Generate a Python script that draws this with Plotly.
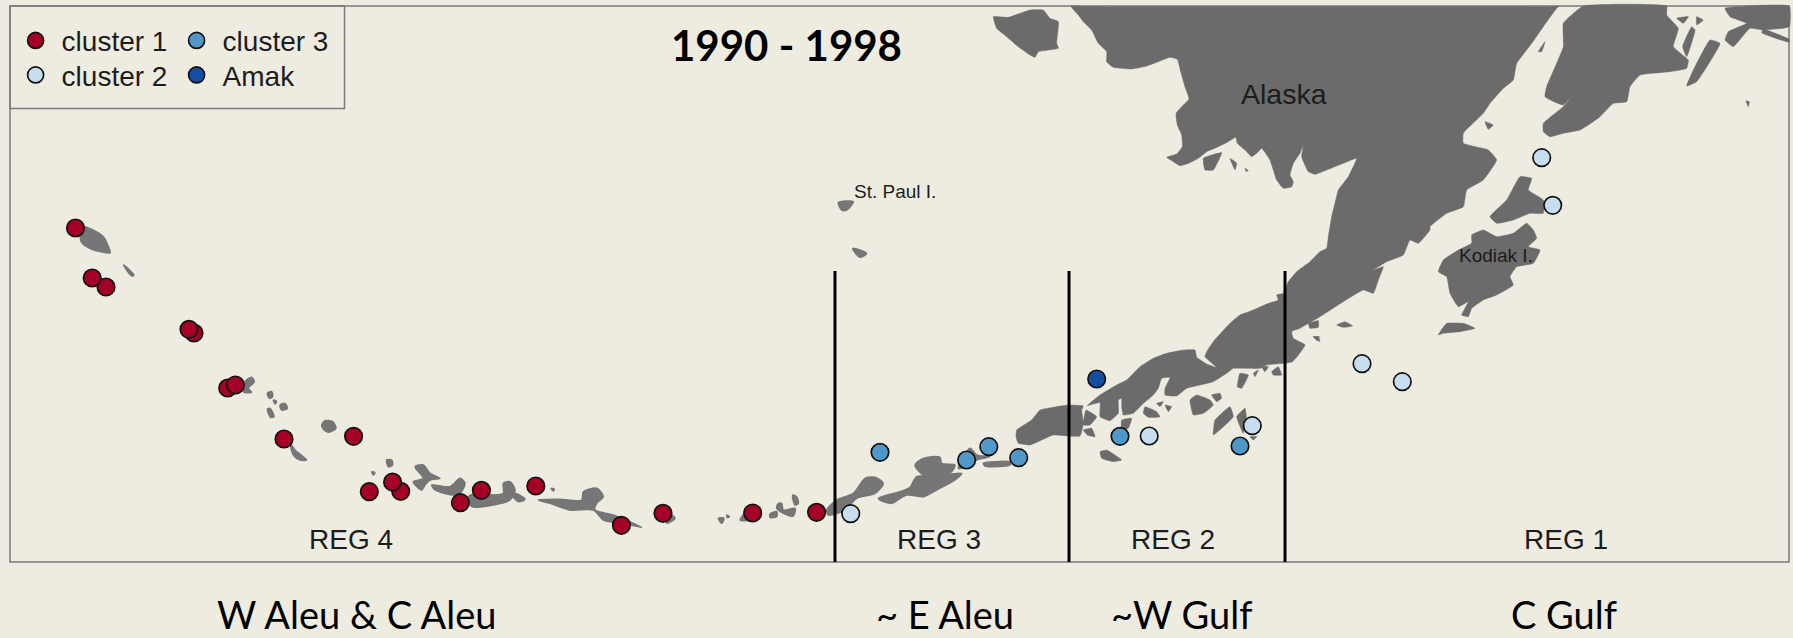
import plotly.graph_objects as go

W, H = 1793, 638
BG = "#EEECE1"
LAND = "#6B6B6B"
ISLE = "#767676"

# ---- survey sites (map position in image units) ----
cluster1_x = [75.5, 106, 92.2, 194, 189, 227.7, 235.4, 284, 353.6, 369.3, 400.7, 392.6, 460.4, 481.4, 535.8, 621.4, 663, 752.7, 816.6]
cluster1_y = [228, 287, 278, 333, 329.3, 388, 385, 439, 436.3, 491.7, 491.3, 482, 502.7, 490.3, 486, 525.3, 513.3, 513, 512.3]
cluster2_x = [850.7, 1149.2, 1252.3, 1362, 1402.3, 1541.7, 1552.7]
cluster2_y = [513.7, 436, 425.7, 363.7, 381.7, 157.7, 205.3]
cluster3_x = [880, 966.6, 988.8, 1018.7, 1120, 1240]
cluster3_y = [452.3, 460, 446.7, 457.7, 436.3, 446]
amak_x = [1096.7]
amak_y = [379]

region_boundaries = [835, 1069, 1285]
region_labels = ["REG 4", "REG 3", "REG 2", "REG 1"]
region_label_x = [351, 938.7, 1173, 1566]
area_labels = ["W Aleu & C Aleu", "~ E Aleu", "~W Gulf", "C Gulf"]
area_label_x = [356, 945, 1182, 1564]
place_labels = ["St. Paul I.", "Alaska", "Kodiak I."]
place_x = [895, 1284, 1496]
place_y = [191, 94, 255]


def P(ox, oy, pts, fx=3.0, fy=3.0):
    return [(ox + a / fx, oy + b / fy) for a, b in pts]


# ---- coast outlines ----
mainland = (
    P(950, 0, [(362, 18), (385, 45), (400, 65), (425, 90), (445, 130), (470, 155), (470, 185), (490, 202), (545, 207), (590, 198), (625, 185), (660, 172), (682, 178), (692, 215), (705, 260), (717, 297), (695, 320), (678, 340), (682, 375), (695, 405), (697, 440), (680, 462), (650, 472), (670, 485), (690, 497), (720, 488), (745, 475), (770, 455), (805, 440), (835, 425), (857, 412), (862, 430), (885, 450), (905, 470), (925, 455), (935, 445), (960, 480), (980, 540), (1000, 565), (1025, 560), (1030, 545), (1020, 525), (1030, 490), (1050, 460), (1060, 435), (1055, 470), (1075, 515), (1095, 523), (1130, 510), (1180, 490), (1220, 475), (1195, 530), (1165, 570), (1155, 610), (1145, 650), (1135, 710), (1130, 745)])
    + P(1230, 230, [(270, 65), (240, 95), (200, 125), (175, 155), (160, 190), (140, 195), (145, 210), (115, 220), (70, 240), (30, 255), (0, 280)])
    + P(1000, 260, [(640, 245), (620, 275), (615, 290), (650, 322), (620, 312), (590, 292), (585, 270), (550, 270), (500, 280), (460, 295), (420, 320), (380, 360), (350, 375), (300, 405), (262, 437), (300, 428), (300, 470), (330, 482), (355, 460), (355, 420), (365, 415), (365, 440), (370, 465), (400, 460), (430, 430), (460, 405), (475, 385), (485, 355), (510, 352), (495, 385), (495, 405), (530, 408), (560, 385), (600, 375), (640, 365), (680, 340), (700, 325), (735, 325), (780, 325), (800, 315), (850, 310), (878, 305), (915, 255), (880, 235), (875, 215), (900, 205), (925, 190), (960, 170)])
    + P(1230, 230, [(400, 180), (430, 190), (445, 150), (460, 110), (430, 120), (470, 95), (520, 75), (540, 30), (565, 40), (600, 0)])
    + P(1400, 0, [(90, 680), (140, 640), (190, 620), (200, 570), (250, 540), (290, 480), (265, 450), (190, 430), (190, 400), (250, 340), (270, 310), (310, 265), (340, 240), (350, 190), (395, 130), (430, 80), (470, 25), (478, 18)])
    + [(1550, 6.5), (1500, 6.5), (1400, 6.5), (1300, 6.5), (1200, 6.5), (1120, 6.5), (1085, 6.5)]
)
land_shapes = [
    mainland,
    # Kenai
    P(1400, 0, [(550, 18), (800, 18), (800, 45), (835, 85), (820, 140), (865, 180), (860, 205), (810, 215), (720, 225), (690, 260), (680, 305), (640, 310), (600, 350), (565, 375), (540, 390), (490, 400), (450, 410), (430, 395), (430, 370), (490, 320), (525, 280), (490, 315), (435, 290), (440, 260), (490, 140), (490, 70)]),
    # Copper River / top right
    P(1400, 0, [(975, 25), (1168, 18), (1168, 80), (1090, 90), (1050, 85), (1000, 140), (975, 120), (985, 95), (1040, 70), (990, 50)]),
    P(1400, 0, [(1090, 88), (1168, 118), (1168, 127), (1085, 98)]),
    P(1400, 0, [(930, 120), (960, 130), (890, 245), (860, 258), (880, 210)]),
    P(1400, 0, [(875, 80), (885, 90), (860, 170), (848, 140)]),
    P(1400, 0, [(830, 55), (865, 50), (850, 70)]),
    P(1400, 0, [(890, 50), (910, 60), (890, 75)]),
    P(1400, 0, [(1038, 303), (1048, 305), (1045, 320)]),
    P(1400, 0, [(255, 365), (280, 375), (265, 388)]),
    P(1400, 0, [(415, 155), (435, 125), (425, 155)]),
    # Kodiak group
    P(1400, 0, [(360, 530), (395, 535), (385, 570), (430, 600), (430, 640), (390, 640), (340, 660), (290, 670), (270, 650), (320, 600)]),
    P(1400, 0, [(215, 705), (250, 690), (290, 710), (340, 700), (380, 670), (400, 690), (410, 715), (385, 740), (420, 750), (400, 790), (350, 800), (330, 830), (340, 855), (290, 885), (250, 900), (215, 925), (205, 950), (185, 945), (205, 905), (175, 920), (150, 880), (140, 830), (115, 815), (130, 780), (175, 750), (215, 730)]),
    P(1400, 0, [(115, 1005), (140, 970), (190, 970), (225, 985), (180, 995), (130, 1000)]),
    # Bering Sea islands
    P(950, 0, [(130, 50), (175, 52), (240, 30), (280, 30), (300, 55), (325, 65), (320, 130), (325, 145), (265, 155), (255, 172), (240, 165), (205, 140), (170, 110), (140, 85)]),
    P(950, 0, [(760, 475), (815, 458), (790, 510), (765, 510)]),
    P(950, 0, [(840, 475), (860, 490), (855, 510)]),
    P(950, 0, [(885, 505), (895, 512), (888, 514)]),
    # Unimak
    P(1000, 260, [(250, 438), (205, 435), (170, 440), (120, 450), (95, 480), (50, 510), (48, 530), (55, 550), (90, 555), (125, 540), (160, 525), (240, 528), (250, 490), (245, 450)]),
    # south of the peninsula
    P(1000, 260, [(258, 450), (290, 470), (270, 495), (250, 495)]),
    P(1000, 260, [(250, 510), (275, 505), (285, 530), (262, 525)]),
    P(1000, 260, [(300, 575), (320, 570), (365, 600), (340, 605), (305, 595)]),
    P(1000, 260, [(365, 480), (395, 475), (385, 505), (365, 510)]),
    P(1000, 260, [(570, 420), (590, 405), (630, 420), (640, 435), (610, 460), (580, 465)]),
    P(1000, 260, [(635, 405), (660, 400), (665, 415), (650, 425)]),
    P(1000, 260, [(470, 430), (490, 425), (480, 440)]),
    P(1000, 260, [(495, 435), (515, 440), (505, 455)]),
    P(1000, 260, [(435, 440), (470, 455), (480, 470), (445, 472), (430, 460)]),
    P(1000, 260, [(645, 480), (690, 440), (700, 470), (665, 505), (640, 525)]),
    P(1000, 260, [(710, 470), (735, 445), (740, 480), (730, 520)]),
    P(1000, 260, [(750, 530), (770, 530), (760, 540)]),
    P(1000, 260, [(720, 340), (745, 345), (725, 385), (712, 380)]),
    P(1000, 260, [(760, 340), (775, 330), (765, 350)]),
    P(1000, 260, [(785, 320), (805, 320), (795, 335)]),
    P(1000, 260, [(815, 335), (835, 320), (845, 345), (820, 345)]),
    P(1000, 260, [(940, 230), (955, 230), (960, 245)]),
    P(1230, 230, [(320, 285), (345, 275), (368, 288), (340, 292)]),
    P(1230, 230, [(235, 280), (265, 272), (265, 292), (240, 295)]),
    P(1230, 230, [(250, 320), (268, 320), (262, 332)]),
]
isle_shapes = [
    # eastern Aleutians
    P(820, 400, [(490, 190), (530, 185), (570, 185), (570, 195), (520, 200), (495, 198)]),
    P(820, 400, [(285, 195), (310, 175), (360, 172), (365, 190), (405, 195), (395, 215), (355, 235), (310, 225)]),
    P(820, 400, [(175, 295), (240, 275), (270, 262), (290, 230), (340, 230), (425, 220), (405, 240), (350, 270), (310, 290), (260, 285), (215, 310), (190, 305)]),
    P(820, 400, [(415, 205), (450, 145), (470, 165), (510, 170), (470, 180), (440, 200)]),
    P(820, 400, [(20, 330), (50, 300), (100, 280), (135, 235), (165, 232), (190, 250), (165, 280), (110, 295), (75, 330), (25, 345)]),
    # central Aleutians
    P(400, 440, [(45, 80), (70, 75), (90, 100), (120, 115), (90, 120), (75, 135), (65, 150), (40, 125), (70, 115)]),
    P(400, 440, [(95, 135), (150, 140), (180, 115), (195, 130), (180, 160), (160, 165), (105, 150)]),
    P(400, 440, [(205, 170), (240, 160), (280, 165), (310, 160), (310, 130), (330, 125), (345, 150), (330, 180), (280, 195), (215, 200)]),
    P(400, 440, [(345, 160), (375, 178), (355, 185), (340, 170)]),
    P(400, 440, [(415, 180), (480, 178), (545, 180), (550, 155), (590, 145), (610, 170), (590, 190), (585, 210), (640, 225), (725, 262), (670, 250), (610, 240), (580, 210), (510, 210), (450, 190)]),
    P(400, 440, [(453, 145), (463, 147), (460, 153)]),
    P(400, 440, [(815, 225), (825, 235), (800, 250)]),
    P(400, 440, [(955, 235), (972, 235), (965, 250)]),
    P(400, 440, [(980, 225), (988, 230), (982, 233)]),
    P(400, 440, [(1020, 240), (1040, 215), (1050, 240)]),
    P(400, 440, [(1110, 222), (1130, 215), (1130, 230), (1110, 232)]),
    P(400, 440, [(1135, 190), (1145, 190), (1150, 210), (1185, 205), (1180, 228), (1155, 222), (1130, 205)]),
    P(400, 440, [(1178, 165), (1190, 170), (1195, 190), (1185, 195)]),
    # western Aleutians
    P(210, 360, [(105, 65), (125, 52), (133, 65), (115, 85), (125, 97), (100, 95)]),
    P(210, 360, [(172, 100), (185, 95), (188, 110), (178, 115)]),
    P(210, 360, [(190, 120), (200, 125), (195, 132)]),
    P(210, 360, [(210, 135), (225, 130), (232, 145), (215, 150)]),
    P(210, 360, [(172, 148), (180, 145), (192, 170), (182, 172)]),
    P(210, 360, [(335, 195), (345, 182), (368, 185), (378, 205), (355, 217), (340, 207)]),
    P(210, 360, [(240, 250), (255, 270), (290, 300), (270, 300), (250, 285)]),
    P(210, 360, [(530, 300), (545, 300), (548, 315), (535, 320)]),
    P(210, 360, [(485, 335), (495, 338), (490, 345)]),
    P(0, 0, [(215, 680), (270, 710), (285, 745), (288, 758), (240, 748), (212, 725)], 2.613, 3),
    P(0, 0, [(323, 795), (350, 825), (345, 828), (325, 800)], 2.613, 3),
    # Pribilofs
    P(820, 160, [(55, 128), (100, 125), (80, 150), (65, 150)]),
    P(820, 160, [(98, 265), (140, 280), (120, 292)]),
]


def polygons(shapes):
    xs, ys = [], []
    for s in shapes:
        xs += [p[0] for p in s] + [s[0][0], None]
        ys += [p[1] for p in s] + [s[0][1], None]
    return xs, ys


fig = go.Figure()
for shapes, col, lw, sm in ((land_shapes, LAND, 0.5, 0.35), (isle_shapes, ISLE, 1.5, 0.8)):
    lx, ly = polygons(shapes)
    fig.add_trace(go.Scatter(x=lx, y=ly, mode="lines", fill="toself", fillcolor=col,
                             line=dict(color=col, width=lw, shape="spline", smoothing=sm),
                             hoverinfo="skip", showlegend=False))

for name, xs, ys, col, leg in (
    ("cluster 1", cluster1_x, cluster1_y, "#A50026", "legend"),
    ("cluster 2", cluster2_x, cluster2_y, "#C6DEEF", "legend2"),
    ("cluster 3", cluster3_x, cluster3_y, "#4F98C8", "legend3"),
    ("Amak", amak_x, amak_y, "#124FA2", "legend4"),
):
    fig.add_trace(go.Scatter(x=xs, y=ys, mode="markers", name=name, legend=leg,
                             marker=dict(size=17.5, color=col, line=dict(color="#111111", width=1.7))))

frame = "#7A7A7A"
shapes = [
    dict(type="rect", x0=10, x1=1789, y0=6, y1=562, line=dict(color=frame, width=1.5), layer="below"),
    dict(type="rect", x0=10, x1=344.5, y0=6, y1=108.5, line=dict(color=frame, width=1.5), layer="below"),
]
for b in region_boundaries:
    shapes.append(dict(type="line", x0=b, x1=b, y0=271, y1=562, line=dict(color="#000000", width=3)))

ann = []
T = "#1C1C1C"
for t, x in zip(region_labels, region_label_x):
    ann.append(dict(x=x, y=539, text=t, font=dict(family="Liberation Sans", size=28, color=T)))
for t, x in zip(area_labels, area_label_x):
    ann.append(dict(x=x, y=614, text=t, font=dict(family="Lato", size=38, color="#000000")))
for t, x, y in zip(place_labels, place_x, place_y):
    size = 28.5 if t == "Alaska" else 19
    ann.append(dict(x=x, y=y, text=t, font=dict(family="Liberation Sans", size=size, color=T)))
ann.append(dict(x=786, y=45, text="<b>1990 - 1998</b>", font=dict(family="Lato", size=42, color="#000000")))
for a in ann:
    a.update(xref="x", yref="y", showarrow=False, xanchor="center", yanchor="middle")

leg_font = dict(family="Liberation Sans", size=28, color=T)


def legend_box(left, top):
    return dict(x=left / W, y=1 - top / H, xanchor="left", yanchor="top", bgcolor="rgba(0,0,0,0)",
                font=leg_font, itemwidth=42, itemclick=False, itemdoubleclick=False)


fig.update_layout(
    width=W, height=H, margin=dict(l=0, r=0, t=0, b=0),
    paper_bgcolor=BG, plot_bgcolor=BG,
    xaxis=dict(range=[0, W], visible=False, fixedrange=True),
    yaxis=dict(range=[H, 0], visible=False, fixedrange=True),
    shapes=shapes, annotations=ann, showlegend=True, hovermode=False,
    legend=legend_box(9.6, 15.7),
    legend2=legend_box(9.6, 50.2),
    legend3=legend_box(170.6, 15.7),
    legend4=legend_box(170.6, 50.2),
)
fig.write_html("out.html", config={"displayModeBar": False},
               post_script=f"document.body.style.margin='0';document.body.style.background='{BG}';")
